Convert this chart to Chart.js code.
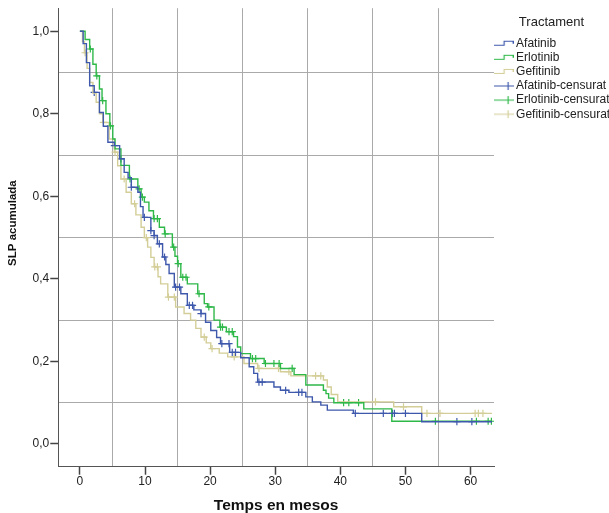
<!DOCTYPE html>
<html>
<head>
<meta charset="utf-8">
<script src="https://cdn.jsdelivr.net/npm/chart.js@4.4.1/dist/chart.umd.min.js"></script>
<style>
  html, body { margin: 0; padding: 0; background: #fff; }
</style>
</head>
<body>
<canvas id="myChart" width="609" height="513"></canvas>
<script>
// Kaplan-Meier steps: [months, cumulative PFS]
const afatinibCurve = [[0,1.0],[0.5,0.97],[1.0,0.924],[1.5,0.868],[2.2,0.852],[3.0,0.803],[3.6,0.77],[4.3,0.731],[5.3,0.723],[6.1,0.691],[6.8,0.658],[7.4,0.645],[7.9,0.622],[8.9,0.610],[9.3,0.575],[9.7,0.549],[10.9,0.517],[11.4,0.505],[11.9,0.485],[12.7,0.453],[13.2,0.435],[13.7,0.413],[14.5,0.38],[15.5,0.364],[16.5,0.336],[17.5,0.325],[18.6,0.316],[19.3,0.295],[20.1,0.275],[21.0,0.258],[21.6,0.243],[23.0,0.222],[24.7,0.209],[26.0,0.187],[26.7,0.171],[27.3,0.150],[29.8,0.138],[30.8,0.13],[32.1,0.125],[34.7,0.114],[35.7,0.102],[37.0,0.094],[38.0,0.082],[42.0,0.074],[52.5,0.054],[63.3,0.054]];
const erlotinibCurve = [[0,1.0],[0.8,0.98],[1.5,0.957],[2.0,0.92],[2.5,0.892],[3.0,0.86],[3.4,0.832],[4.0,0.80],[4.6,0.771],[5.05,0.739],[5.4,0.715],[6.3,0.675],[7.6,0.642],[8.9,0.618],[9.4,0.598],[9.9,0.586],[10.6,0.565],[11.3,0.546],[12.2,0.525],[13.0,0.509],[14.2,0.477],[14.6,0.455],[15.0,0.437],[15.5,0.404],[16.5,0.388],[18.1,0.364],[19.1,0.34],[19.6,0.332],[20.6,0.30],[21.5,0.283],[22.5,0.272],[23.6,0.26],[24.2,0.235],[24.7,0.219],[26.2,0.207],[28.3,0.195],[30.8,0.183],[32.9,0.168],[34.7,0.143],[37.4,0.13],[37.8,0.122],[38.2,0.111],[39.0,0.10],[43.6,0.085],[47.9,0.055],[63.3,0.055]];
const gefitinibCurve = [[0,1.0],[0.4,0.975],[0.7,0.948],[1.1,0.91],[1.5,0.876],[2.0,0.85],[2.5,0.828],[3.0,0.80],[3.5,0.779],[4.5,0.739],[5.3,0.707],[5.8,0.674],[6.3,0.642],[7.1,0.61],[7.9,0.582],[8.6,0.555],[9.4,0.525],[9.9,0.50],[10.4,0.477],[10.9,0.452],[11.4,0.429],[12.0,0.405],[12.4,0.388],[13.5,0.356],[14.7,0.332],[16.0,0.316],[17.0,0.30],[17.8,0.28],[18.6,0.259],[19.4,0.245],[20.1,0.231],[21.4,0.22],[22.7,0.211],[25.2,0.195],[27.3,0.183],[30.8,0.175],[32.4,0.165],[37.4,0.155],[38.0,0.138],[38.6,0.12],[39.6,0.102],[48.2,0.09],[52.5,0.074],[63.3,0.074]];

// censored cases
const afatinibCens = [[2.2,0.852],[5.3,0.723],[6.3,0.691],[7.9,0.622],[9.9,0.549],[10.9,0.517],[11.4,0.505],[12.2,0.485],[13.0,0.453],[14.7,0.38],[15.3,0.38],[16.8,0.336],[17.3,0.336],[18.6,0.316],[21.8,0.243],[22.9,0.243],[23.4,0.222],[23.9,0.222],[27.5,0.150],[28.0,0.150],[31.6,0.13],[33.6,0.125],[34.1,0.125],[42.3,0.074],[46.6,0.074],[48.0,0.074],[48.3,0.074],[50.0,0.074],[57.9,0.054],[60.2,0.054]];
const erlotinibCens = [[1.6,0.957],[2.6,0.892],[3.5,0.832],[4.7,0.771],[7.7,0.642],[9.1,0.618],[9.6,0.598],[11.4,0.546],[11.9,0.546],[13.1,0.509],[14.4,0.477],[15.1,0.437],[15.8,0.404],[16.3,0.404],[18.3,0.364],[19.8,0.332],[21.6,0.283],[21.9,0.283],[22.9,0.272],[23.4,0.272],[26.5,0.207],[27.0,0.207],[28.5,0.195],[29.8,0.195],[30.6,0.195],[32.6,0.183],[40.5,0.10],[41.3,0.10],[42.8,0.10],[54.6,0.055],[60.9,0.055],[62.7,0.055],[63.2,0.055]];
const gefitinibCens = [[0.8,0.948],[3.6,0.779],[5.4,0.707],[6.8,0.642],[8.4,0.582],[10.2,0.50],[11.5,0.429],[11.9,0.429],[13.6,0.356],[14.5,0.356],[19.1,0.259],[20.3,0.231],[23.7,0.211],[27.5,0.183],[30.5,0.183],[32.1,0.175],[36.2,0.165],[37.0,0.165],[45.4,0.102],[49.7,0.09],[53.3,0.074],[55.3,0.074],[60.7,0.074],[61.2,0.074],[61.9,0.074]];

const groups = ['Afatinib', 'Erlotinib', 'Gefitinib'];
const colors = ['#3e58ac', '#2eb848', '#d3ce97'];
const xTicks = [0, 5, 10, 15, 20, 25, 30, 35, 40, 45, 50, 55, 60];
const yTicks = [0, 0.1, 0.2, 0.3, 0.4, 0.5, 0.6, 0.7, 0.8, 0.9, 1.0];

const FONT = "'Liberation Sans', Arial, sans-serif";

const toXY = arr => arr.map(p => ({x: p[0], y: p[1]}));

// legend symbols, SPSS style
function stepIcon(color) {
    const c = document.createElement('canvas');
    c.width = 21; c.height = 10;
    const g = c.getContext('2d');
    g.strokeStyle = color; g.lineWidth = 1.2;
    g.beginPath();
    g.moveTo(0, 6.5); g.lineTo(11.5, 6.5); g.lineTo(11.5, 2.5); g.lineTo(20.5, 2.5); g.lineTo(20.5, 5);
    g.stroke();
    return c;
}
function crossIcon(color) {
    const c = document.createElement('canvas');
    c.width = 21; c.height = 10;
    const g = c.getContext('2d');
    g.strokeStyle = color; g.lineWidth = 1.2;
    g.beginPath();
    g.moveTo(0, 5); g.lineTo(21, 5);
    g.moveTo(15.5, 1); g.lineTo(15.5, 9);
    g.stroke();
    return c;
}

const curves = [afatinibCurve, erlotinibCurve, gefitinibCurve];
const censored = [afatinibCens, erlotinibCens, gefitinibCens];

const datasets = [];
groups.forEach((name, i) => {
    datasets.push({
        label: name,
        data: toXY(curves[i]),
        showLine: true,
        stepped: 'before',
        borderColor: colors[i],
        borderWidth: 1.4,
        pointRadius: 0,
        fill: false
    });
});
groups.forEach((name, i) => {
    datasets.push({
        label: name + '-censurat',
        data: toXY(censored[i]),
        showLine: false,
        pointStyle: 'cross',
        pointRadius: 3.6,
        pointBorderWidth: 1.2,
        borderColor: colors[i],
        backgroundColor: colors[i]
    });
});

const ctx = document.getElementById('myChart').getContext('2d');
const myChart = new Chart(ctx, {
    type: 'scatter',
    data: { datasets: datasets },
    options: {
        responsive: false,
        animation: false,
        layout: { padding: { top: 7, left: 0, right: 0, bottom: 0 } },
        plugins: {
            tooltip: { enabled: false },
            legend: {
                position: 'right',
                align: 'start',
                maxWidth: 115,
                title: {
                    display: true,
                    text: 'Tractament',
                    color: '#222',
                    font: { family: FONT, size: 13 },
                    padding: { top: 9, bottom: 4 }
                },
                labels: {
                    usePointStyle: true,
                    pointStyleWidth: 14,
                    boxHeight: 12,
                    padding: 2.1,
                    color: '#222',
                    font: { family: FONT, size: 12, lineHeight: 1 },
                    generateLabels: chart => chart.data.datasets.map((ds, i) => ({
                        text: ds.label,
                        pointStyle: i < 3 ? stepIcon(colors[i]) : crossIcon(colors[i - 3]),
                        fillStyle: 'transparent',
                        strokeStyle: 'transparent',
                        lineWidth: 0,
                        fontColor: '#222',
                        hidden: false,
                        datasetIndex: i
                    }))
                }
            }
        },
        scales: {
            x: {
                type: 'linear',
                min: -3.32,
                max: 63.6,
                afterBuildTicks: s => { s.ticks = xTicks.map(v => ({ value: v })); },
                ticks: {
                    autoSkip: false,
                    maxRotation: 0,
                    padding: 0,
                    color: '#222',
                    font: { family: FONT, size: 12 },
                    callback: v => (v % 10 === 0 ? String(v) : '')
                },
                grid: {
                    color: c => (c.tick && c.tick.value % 10 === 5 ? '#aaaaaa' : 'rgba(0,0,0,0)'),
                    tickColor: c => (c.tick && c.tick.value % 10 === 0 ? '#444' : 'rgba(0,0,0,0)'),
                    tickLength: 8,
                    tickWidth: 1.5,
                    lineWidth: 1
                },
                border: { display: true, color: '#555', width: 1 },
                title: {
                    display: true,
                    text: 'Temps en mesos',
                    color: '#111',
                    font: { family: FONT, size: 15.5, weight: 'bold' },
                    padding: { top: 7.6, bottom: -2.3 }
                }
            },
            y: {
                type: 'linear',
                min: -0.0551,
                max: 1.0559,
                afterBuildTicks: s => { s.ticks = yTicks.map(v => ({ value: v })); },
                ticks: {
                    autoSkip: false,
                    padding: 1,
                    color: '#222',
                    font: { family: FONT, size: 12 },
                    callback: v => (Math.round(v * 10) % 2 === 0 ? v.toFixed(1).replace('.', ',') : '')
                },
                grid: {
                    color: c => (c.tick && Math.round(c.tick.value * 10) % 2 === 1 ? '#aaaaaa' : 'rgba(0,0,0,0)'),
                    tickColor: c => (c.tick && Math.round(c.tick.value * 10) % 2 === 0 ? '#444' : 'rgba(0,0,0,0)'),
                    tickLength: 8,
                    tickWidth: 1.5,
                    lineWidth: 1
                },
                border: { display: true, color: '#555', width: 1 },
                title: {
                    display: true,
                    // leading spaces lift the visible text, as in the original
                    text: '         SLP acumulada',
                    color: '#111',
                    font: { family: FONT, size: 11.5, weight: 'bold' },
                    padding: { top: 6.4, bottom: 11.4 }
                }
            }
        }
    }
});
</script>
</body>
</html>
